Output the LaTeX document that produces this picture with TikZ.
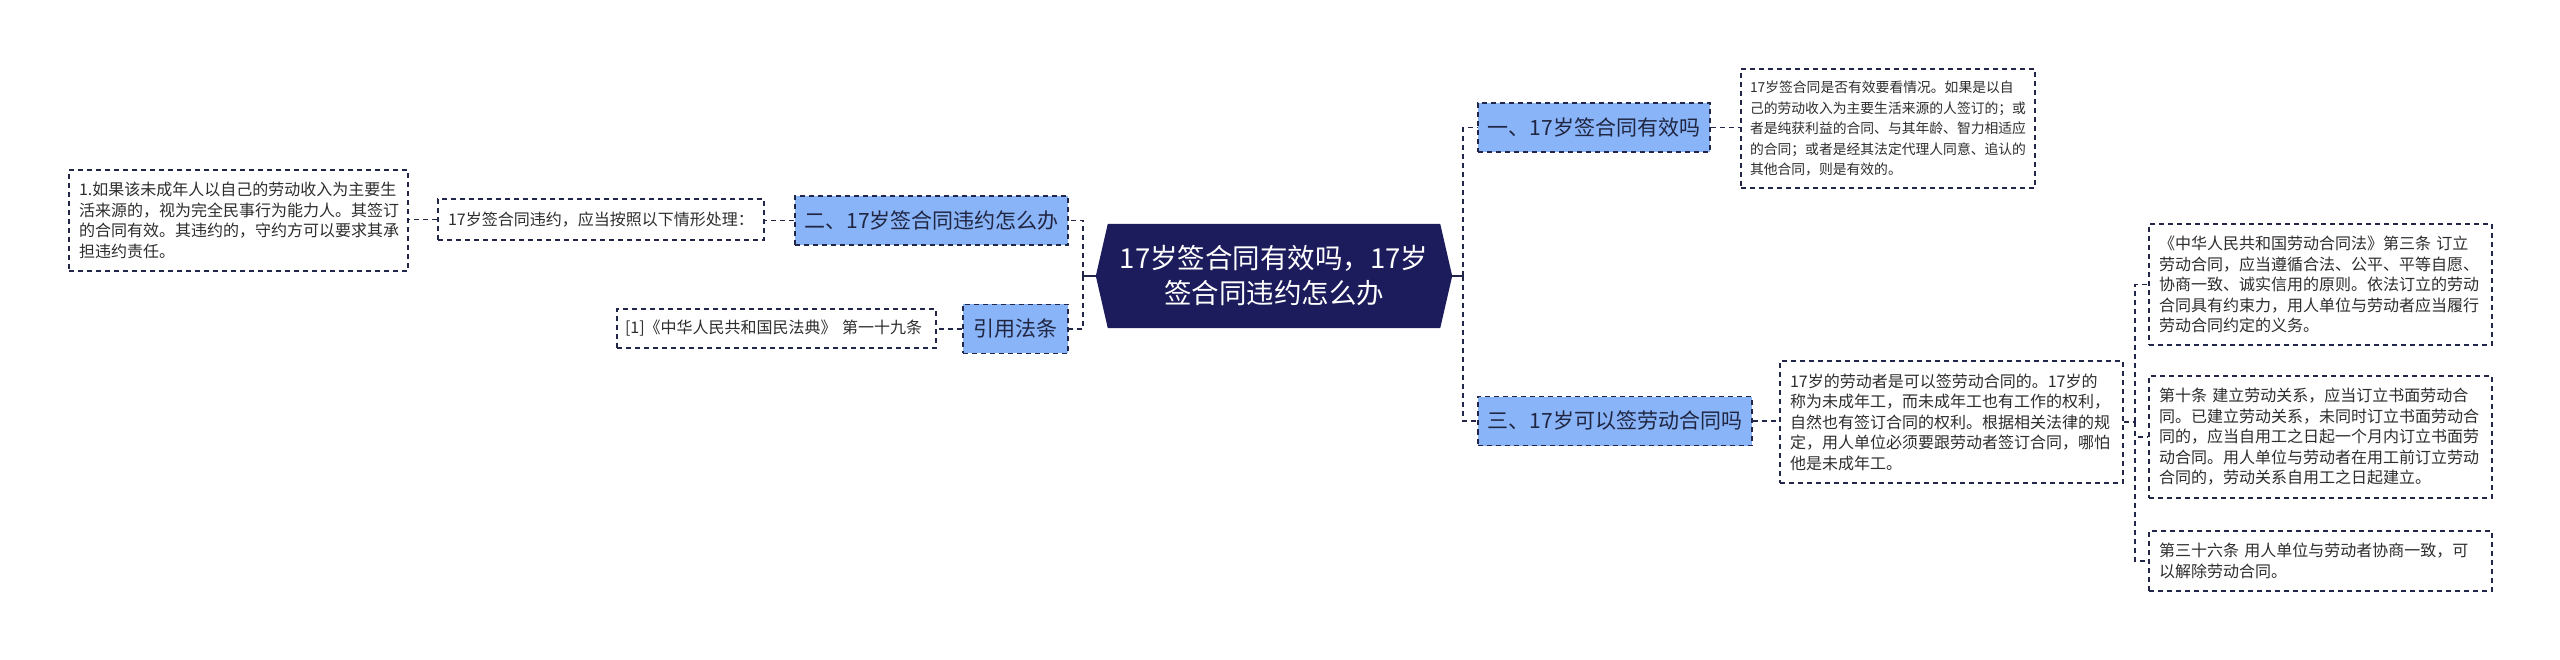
\documentclass[tikz,border=0pt]{standalone}
\usepackage{fontspec}
\setmainfont{Noto Sans CJK SC}
\usetikzlibrary{backgrounds}
\definecolor{navy}{RGB}{28,28,92}
\definecolor{lblue}{RGB}{138,180,248}
\definecolor{bordc}{RGB}{34,38,72}
\definecolor{leaftext}{RGB}{45,45,45}
\definecolor{branchtext}{RGB}{32,38,66}
\tikzset{
  dashline/.style={dash pattern=on 5pt off 4pt, line width=1.6pt, draw=bordc},
  leafbox/.style={dashline, fill=white, text=leaftext, align=left,
    inner xsep=10pt, inner ysep=0pt, font=\fontsize{16}{20.5}\selectfont},
  branchbox/.style={dashline, fill=lblue, text=branchtext, align=center,
    inner xsep=8pt, inner ysep=0pt, minimum height=49pt, font=\fontsize{21}{25}\selectfont},
  centerbox/.style={text=white, align=center, inner sep=0pt,
    minimum width=356pt, minimum height=104pt, font=\fontsize{27.5}{35}\selectfont},
  conn/.style={dashline},
  solidconn/.style={draw=bordc, line width=2pt}
}
\begin{document}
\begin{tikzpicture}[x=1pt,y=-1pt]
\useasboundingbox (0,0) rectangle (2560,660);

% center
\node[centerbox] (c) at (1274,276) {17岁签合同有效吗，17岁\\签合同违约怎么办};

% right branches
\node[branchbox, minimum width=232pt] (b1) at (1594,127.5) {一、17岁签合同有效吗};
\node[branchbox, minimum width=274pt] (b3) at (1615,421) {三、17岁可以签劳动合同吗};

% left branches
\node[branchbox, minimum width=273pt] (b2) at (931.5,220.5) {二、17岁签合同违约怎么办};
\node[branchbox, minimum width=105pt] (b4) at (1015.5,329) {引用法条};

% leaves right
\node[leafbox, text width=276pt, inner xsep=9pt, minimum height=119pt,
  font=\fontsize{13.8}{20.5}\selectfont] (t1) at (1888,128.5) {17岁签合同是否有效要看情况。如果是以自\\己的劳动收入为主要生活来源的人签订的；或\\者是纯获利益的合同、与其年龄、智力相适应\\的合同；或者是经其法定代理人同意、追认的\\其他合同，则是有效的。};
\node[leafbox, text width=323pt, minimum height=122pt] (t3) at (1951.5,422) {17岁的劳动者是可以签劳动合同的。17岁的\\称为未成年工，而未成年工也有工作的权利，\\自然也有签订合同的权利。根据相关法律的规\\定，用人单位必须要跟劳动者签订合同，哪怕\\他是未成年工。};
\node[leafbox, text width=323pt, minimum height=121pt] (l1) at (2320.5,284.5) {《中华人民共和国劳动合同法》第三条 订立\\劳动合同，应当遵循合法、公平、平等自愿、\\协商一致、诚实信用的原则。依法订立的劳动\\合同具有约束力，用人单位与劳动者应当履行\\劳动合同约定的义务。};
\node[leafbox, text width=323pt, minimum height=122pt] (l2) at (2320.5,437) {第十条 建立劳动关系，应当订立书面劳动合\\同。已建立劳动关系，未同时订立书面劳动合\\同的，应当自用工之日起一个月内订立书面劳\\动合同。用人单位与劳动者在用工前订立劳动\\合同的，劳动关系自用工之日起建立。};
\node[leafbox, text width=323pt, minimum height=60pt] (l3) at (2320.5,561) {第三十六条 用人单位与劳动者协商一致，可\\以解除劳动合同。};

% leaves left
\node[leafbox, text width=306pt, minimum height=41pt] (c2) at (601,219.5) {17岁签合同违约，应当按照以下情形处理：};
\node[leafbox, text width=319pt, minimum height=101pt] (g2) at (238.5,220.5) {1.如果该未成年人以自己的劳动收入为主要生\\活来源的，视为完全民事行为能力人。其签订\\的合同有效。其违约的，守约方可以要求其承\\担违约责任。};
\node[leafbox, inner xsep=8pt, text width=303pt, minimum height=39pt] (c4) at (776.5,328.5) {[1]《中华人民共和国民法典》 第一十九条};

% spine coordinates
\coordinate (rsp) at (1463,276);
\coordinate (lsp) at (1083,276);
\coordinate (rsp2) at (2135,422);

% connectors
\draw[solidconn] (c.east) -- (rsp);
\draw[solidconn] (c.west) -- (lsp);
\draw[conn] (rsp) |- (b1.west);
\draw[conn] (rsp) |- (b3.west);
\draw[conn] (lsp) |- (b2.east);
\draw[conn] (lsp) |- (b4.east);
\draw[conn] (b1.east) -- (b1.east -| t1.west);
\draw[conn] (b3.east) -- (b3.east -| t3.west);
\draw[conn] (t3.east) -- (rsp2);
\draw[conn] (rsp2) |- (l1.west);
\draw[conn] (rsp2) |- (l2.west);
\draw[conn] (rsp2) |- (l3.west);
\draw[conn] (b2.west) -- (b2.west -| c2.east);
\draw[conn] (c2.west) -- (c2.west -| g2.east);
\draw[conn] (b4.west) -- (b4.west -| c4.east);

\begin{scope}[on background layer]
\fill[white] (0,0) rectangle (2560,660);
\fill[navy] ([xshift=12pt]c.north west) -- ([xshift=-12pt]c.north east) -- (c.east)
  -- ([xshift=-12pt]c.south east) -- ([xshift=12pt]c.south west) -- (c.west) -- cycle;
\end{scope}
\end{tikzpicture}
\end{document}
